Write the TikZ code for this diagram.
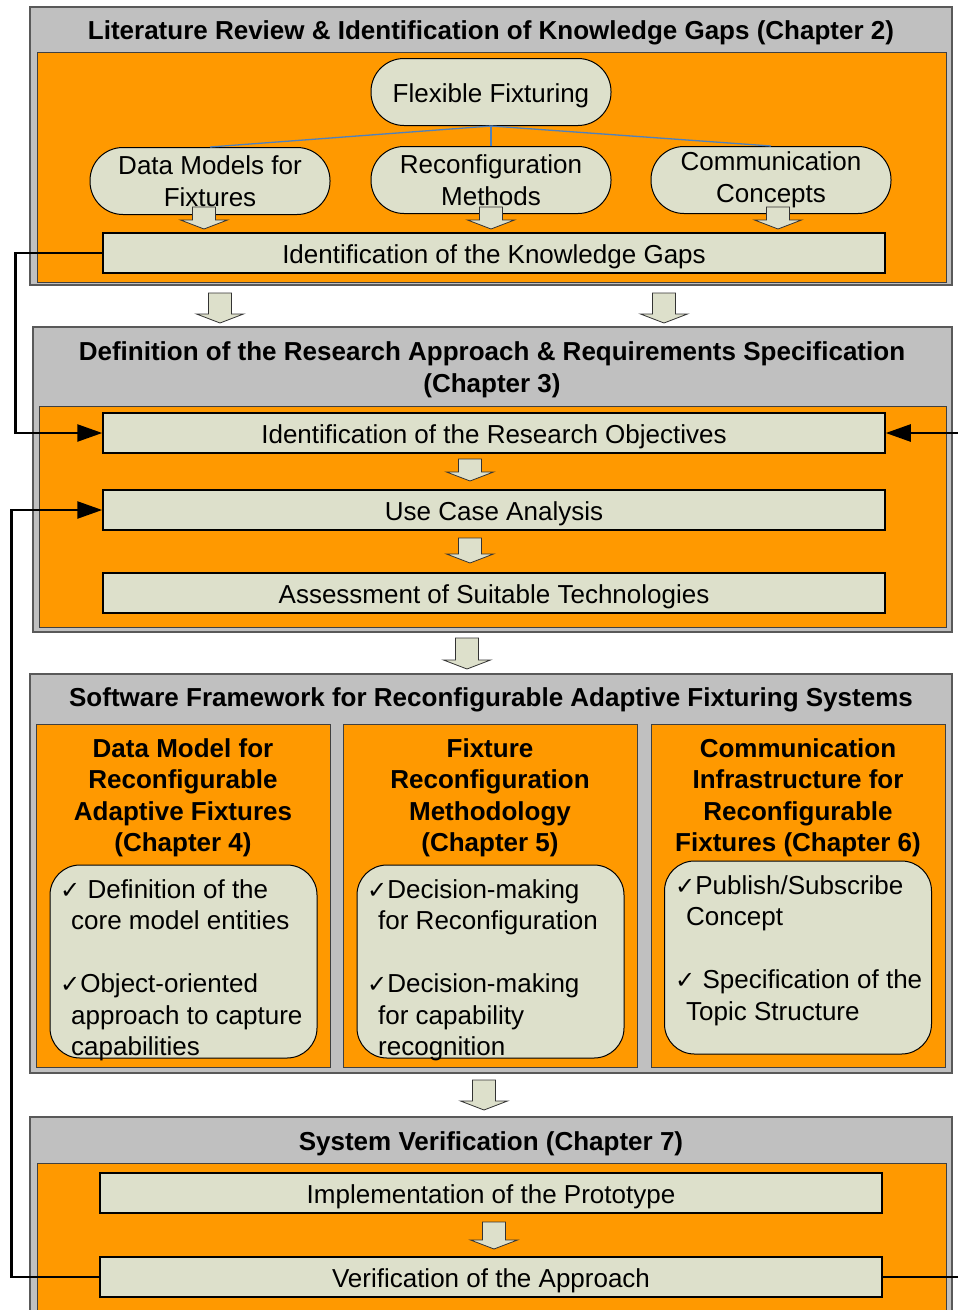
\documentclass[tikz,border=0pt]{standalone}
\usepackage{fontspec}
\setmainfont{Liberation Sans}
\newfontfamily\tickfont{DejaVu Sans}
\usetikzlibrary{arrows.meta}

\definecolor{chapgray}{RGB}{192,192,192}
\definecolor{fixorange}{RGB}{255,153,0}
\definecolor{stepfill}{RGB}{221,224,203}
\definecolor{treeblue}{RGB}{79,129,189}

\newcommand{\donemark}{{\tickfont\fontsize{24}{24}\selectfont ✓}}

\begin{document}
\begin{tikzpicture}[x=1pt, y=-1pt,
        every node/.style={font=\fontsize{26}{31.5}\selectfont},
        oneline/.style={text height=24pt, text depth=4pt},
        chapbox/.style={draw=black!65, fill=chapgray, line width=1.5pt},
        areabox/.style={draw=black!75, fill=fixorange, line width=1pt},
        stepbox/.style={draw=black, fill=stepfill, line width=1.5pt, minimum width=782pt, minimum height=40pt, inner sep=0pt, oneline},
        topicbox/.style={draw=black, fill=stepfill, line width=1pt, rounded corners=33pt, minimum width=240pt, minimum height=67pt, inner sep=0pt, align=center},
        listbox/.style={draw=black, fill=stepfill, line width=1pt, rounded corners=30pt, minimum width=267pt, minimum height=193pt},
        listtext/.style={anchor=north west, inner sep=0pt, align=left},
        heading/.style={font=\fontsize{26}{31.5}\selectfont\bfseries, align=center},
        tree/.style={treeblue, line width=1.3pt},
        feedback/.style={line width=2.5pt, -{Triangle[length=25pt,width=17pt]}},
        blockarrow/.style={draw=black!80, fill=stepfill, line width=0.8pt},
        pics/blockdown/.style={code={
                \path[blockarrow] (-11.5,0) -- (11.5,0) -- (11.5,#1-9) -- (23.5,#1-9) -- (0,#1)
                        -- (-23.5,#1-9) -- (-11.5,#1-9) -- cycle;}}
        ]
        \useasboundingbox (0,0) rectangle (958,1310);

        % Chapter 2
        \draw[chapbox] (30,7) rectangle (952,285);
        \draw[areabox] (37,52) rectangle (946,282);
        \node[heading] (lit) at (491,33) {Literature Review \& Identification of Knowledge Gaps (Chapter 2)};
        \node[topicbox, oneline] (flex) at (491,92) {Flexible Fixturing};
        \node[topicbox] (datamod) at (210,181) {Data Models for\\Fixtures};
        \node[topicbox] (reconf) at (491,180) {Reconfiguration\\Methods};
        \node[topicbox] (comm) at (771,180) {Communication\\Concepts};
        \draw[tree] (flex.south) -- (datamod.north);
        \draw[tree] (flex.south) -- (reconf.north);
        \draw[tree] (flex.south) -- (comm.north);
        \pic at (204,207) {blockdown=22};
        \pic at (491,207) {blockdown=22};
        \pic at (778,207) {blockdown=22};
        \node[stepbox] (gaps) at (494,253) {Identification of the Knowledge Gaps};

        \pic at (220,293) {blockdown=30};
        \pic at (664,293) {blockdown=30};

        % Chapter 3
        \draw[chapbox] (33,327) rectangle (952,632);
        \draw[areabox] (39,406) rectangle (946,627);
        \node[heading] (req) at (492,370) {Definition of the Research Approach \& Requirements Specification\\(Chapter 3)};
        \node[stepbox] (objectives) at (494,433) {Identification of the Research Objectives};
        \pic at (470,459) {blockdown=22};
        \node[stepbox] (usecase) at (494,510) {Use Case Analysis};
        \pic at (470,538) {blockdown=25};
        \node[stepbox] (assess) at (494,593) {Assessment of Suitable Technologies};

        \pic at (467,638) {blockdown=31};

        % Chapters 4 to 6
        \draw[chapbox] (30,674) rectangle (952,1073);
        \node[heading] (soft) at (491,700) {Software Framework for Reconfigurable Adaptive Fixturing Systems};
        \draw[areabox] (36,724) rectangle (330,1067);
        \draw[areabox] (343,724) rectangle (637,1067);
        \draw[areabox] (651,724) rectangle (945,1067);
        \node[heading] (datahead) at (183,798) {Data Model for\\Reconfigurable\\Adaptive Fixtures\\(Chapter 4)};
        \node[heading] (methhead) at (490,798) {Fixture\\Reconfiguration\\Methodology\\(Chapter 5)};
        \node[heading] (infrahead) at (798,798) {Communication\\Infrastructure for\\Reconfigurable\\Fixtures (Chapter 6)};
        \node[listbox] (datalist) at (183.5,961.5) {};
        \node[listbox] (methlist) at (490.5,961.5) {};
        \node[listbox] (infralist) at (798,957.5) {};
        \node[listtext] (datatext) at (60,879) {\donemark\ Definition of the\\\hspace*{11pt}core model entities\\[31.5pt]\donemark Object-oriented\\\hspace*{11pt}approach to capture\\\hspace*{11pt}capabilities};
        \node[listtext] (methtext) at (367,879) {\donemark Decision-making\\\hspace*{11pt}for Reconfiguration\\[31.5pt]\donemark Decision-making\\\hspace*{11pt}for capability\\\hspace*{11pt}recognition};
        \node[listtext] (infratext) at (675,875) {\donemark Publish/Subscribe\\\hspace*{11pt}Concept\\[31.5pt]\donemark\ Specification of the\\\hspace*{11pt}Topic Structure};

        \pic at (484,1080) {blockdown=30};

        % Chapter 7
        \draw[chapbox] (30,1117) rectangle (952,1340);
        \draw[areabox] (37,1163) rectangle (946,1335);
        \node[heading] (sysver) at (491,1144) {System Verification (Chapter 7)};
        \node[stepbox] (proto) at (491,1193) {Implementation of the Prototype};
        \pic at (494,1222) {blockdown=27};
        \node[stepbox] (verify) at (491,1277) {Verification of the Approach};

        % feedback loops
        \draw[feedback] (gaps.west) -- ++(-87,0) |- (objectives.west);
        \draw[feedback] (verify.west) -- ++(-88,0) |- (usecase.west);
        \draw[feedback] (verify.east) -- ++(90,0) |- (objectives.east);
\end{tikzpicture}
\end{document}
